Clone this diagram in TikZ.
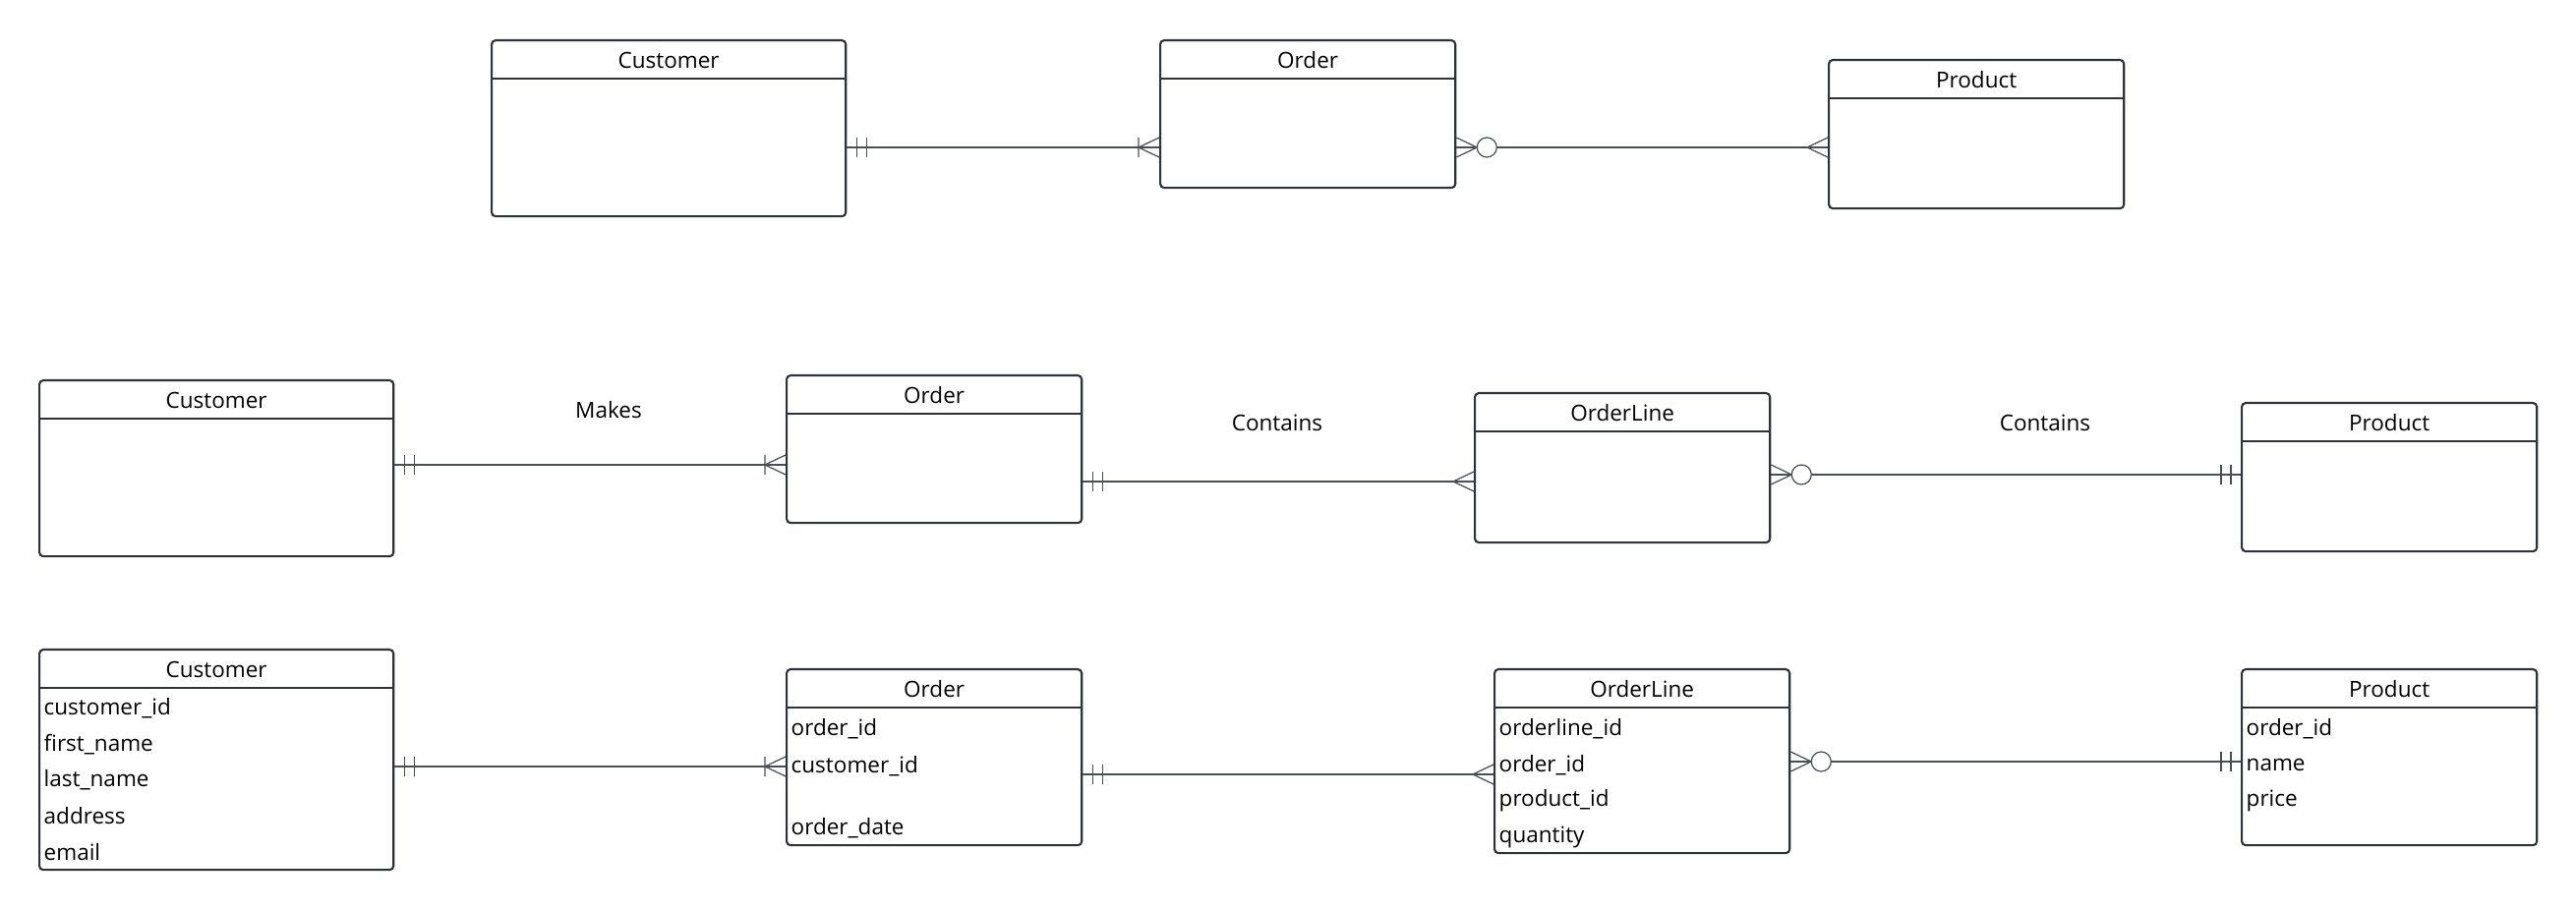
\documentclass[tikz,border=0pt]{standalone}
\usepackage{fontspec}
\setmainfont{Open Sans}
\usepackage{tikz}
\usetikzlibrary{positioning}

\definecolor{boxc}{HTML}{2F323A}
\definecolor{linec}{HTML}{4A4E57}

\begin{document}
\begin{tikzpicture}[
x=0.01cm,
y=-0.01cm,
font=\fontsize{6.4}{7.6}\selectfont,
entity/.style={
  draw=boxc,
  line width=0.6pt,
  rounded corners=0.04cm,
  anchor=north west,
  inner sep=0pt,
  fill=white
  },
rule/.style={
  draw=boxc,
  line width=0.6pt
  },
title/.style={
  inner sep=0pt
  },
attr/.style={
  anchor=west,
  inner sep=0pt
  },
link/.style={
  draw=linec,
  line width=0.35pt
  },
mand/.pic={
  \draw[link] (10,-10) -- (10,10) (20,-10) -- (20,10);
  },
many/.pic={
  \draw[link] (0,-10) -- (21,0) -- (0,10);
  },
onemany/.pic={
  \draw[link] (0,-10) -- (21,0) -- (0,10) (21,-10) -- (21,10);
  },
zeromany/.pic={
  \draw[link] (0,-10) -- (21,0) -- (0,10);
  \draw[link, fill=white] (31,0) circle[radius=0.1cm];
  }
]
\useasboundingbox (0,0) rectangle (2620,925);

% first row: entities only
\node[entity, minimum width=3.6cm, minimum height=1.79cm] (cust1) at (499,40) {};
\node[entity, minimum width=3cm, minimum height=1.5cm] (ord1) at (1179,40) {};
\node[entity, minimum width=3cm, minimum height=1.51cm] (prod1) at (1859,60) {};

% second row: with relationship names
\node[entity, minimum width=3.6cm, minimum height=1.79cm] (cust2) at (39,386) {};
\node[entity, minimum width=3cm, minimum height=1.5cm] (ord2) at (799,381) {};
\node[entity, minimum width=3cm, minimum height=1.52cm] (line2) at (1499,399) {};
\node[entity, minimum width=3cm, minimum height=1.51cm] (prod2) at (2279,409) {};

% third row: with attributes
\node[entity, minimum width=3.6cm, minimum height=2.24cm] (cust3) at (39,660) {};
\node[entity, minimum width=3cm, minimum height=1.79cm] (ord3) at (799,680) {};
\node[entity, minimum width=3cm, minimum height=1.87cm] (line3) at (1519,680) {};
\node[entity, minimum width=3cm, minimum height=1.79cm] (prod3) at (2279,680) {};

% headers
\foreach \e/\t in {cust1/Customer, ord1/Order, prod1/Product,
                   cust2/Customer, ord2/Order, line2/OrderLine, prod2/Product,
                   cust3/Customer, ord3/Order, line3/OrderLine, prod3/Product}
{
  \draw[rule] ([yshift=-0.4cm]\e.north west) -- ([yshift=-0.4cm]\e.north east);
  \node[title] (\e-t) at ([yshift=-0.215cm]\e.north) {\t};
}

% attributes
\foreach \a [count=\i] in {customer\_id, first\_name, last\_name, address, email}
  \node[attr] (cust3-\i) at ([shift={(5,{61+36.5*(\i-1)})}]cust3.north west) {\a};
\foreach \a/\dy [count=\i] in {order\_id/62, customer\_id/100, order\_date/163}
  \node[attr] (ord3-\i) at ([shift={(5,\dy)}]ord3.north west) {\a};
\foreach \a [count=\i] in {orderline\_id, order\_id, product\_id, quantity}
  \node[attr] (line3-\i) at ([shift={(5,{62+36.5*(\i-1)})}]line3.north west) {\a};
\foreach \a [count=\i] in {order\_id, name, price}
  \node[attr] (prod3-\i) at ([shift={(5,{62+36.5*(\i-1)})}]prod3.north west) {\a};

% relationships
\draw[link] (cust1.east |- 0,150) -- (ord1.west |- 0,150);
\path (cust1.east |- 0,150) pic{mand} (ord1.west |- 0,150) pic[xscale=-1]{onemany};
\draw[link] (ord1.east |- 0,150) -- (prod1.west |- 0,150);
\path (ord1.east |- 0,150) pic{zeromany} (prod1.west |- 0,150) pic[xscale=-1]{many};

\draw[link] (cust2.east |- 0,473) -- (ord2.west |- 0,473);
\path (cust2.east |- 0,473) pic{mand} (ord2.west |- 0,473) pic[xscale=-1]{onemany};
\draw[link] (ord2.east |- 0,490) -- (line2.west |- 0,490);
\path (ord2.east |- 0,490) pic{mand} (line2.west |- 0,490) pic[xscale=-1]{many};
\draw[link] (line2.east |- 0,483) -- (prod2.west |- 0,483);
\path (line2.east |- 0,483) pic{zeromany} (prod2.west |- 0,483) pic[xscale=-1]{mand};

\node (makes) at (619,417) {Makes};
\node (contains1) at (1299,430) {Contains};
\node (contains2) at (2080,430) {Contains};

\draw[link] (cust3.east |- 0,780) -- (ord3.west |- 0,780);
\path (cust3.east |- 0,780) pic{mand} (ord3.west |- 0,780) pic[xscale=-1]{onemany};
\draw[link] (ord3.east |- 0,788) -- (line3.west |- 0,788);
\path (ord3.east |- 0,788) pic{mand} (line3.west |- 0,788) pic[xscale=-1]{many};
\draw[link] (line3.east |- 0,775) -- (prod3.west |- 0,775);
\path (line3.east |- 0,775) pic{zeromany} (prod3.west |- 0,775) pic[xscale=-1]{mand};
\end{tikzpicture}
\end{document}
